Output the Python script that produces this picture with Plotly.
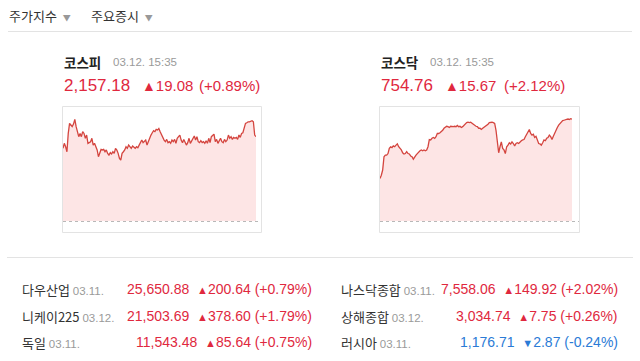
import plotly.graph_objects as go

W, H = 640, 361

# ---------------- data ----------------
kospi_vals = [
    2148.6, 2152.3, 2149.8, 2146.1, 2159.6, 2167.0, 2165.8, 2164.6, 2166.5, 2170.0,
    2164.6, 2159.6, 2157.2, 2159.6, 2157.2, 2160.9, 2159.6, 2156.0, 2158.4, 2152.3,
    2152.8, 2153.5, 2156.0, 2151.0, 2152.3, 2149.8, 2147.4, 2142.4, 2146.1, 2147.8,
    2147.4, 2147.8, 2146.1, 2147.4, 2144.9, 2143.7, 2145.4, 2144.4, 2146.1, 2144.9,
    2148.6, 2147.4, 2144.9, 2141.2, 2140.0, 2144.9, 2146.1, 2147.4, 2149.8, 2148.6,
    2151.0, 2149.8, 2148.6, 2150.3, 2149.3, 2148.6, 2149.8, 2149.1, 2151.0, 2153.5,
    2154.7, 2152.8, 2153.5, 2154.7, 2151.0, 2153.5, 2157.2, 2158.4, 2160.1, 2161.6,
    2160.9, 2162.6, 2162.1, 2163.3, 2160.9, 2158.4, 2157.2, 2154.7, 2153.5, 2155.2,
    2152.8, 2153.5, 2152.3, 2154.7, 2153.5, 2155.2, 2152.3, 2156.0, 2157.2, 2158.4,
    2154.7, 2152.8, 2155.2, 2152.3, 2151.0, 2152.8, 2156.0, 2152.3, 2154.2, 2156.0,
    2157.7, 2154.7, 2157.2, 2153.5, 2152.8, 2154.2, 2152.8, 2153.5, 2152.3, 2154.2,
    2152.3, 2156.0, 2152.8, 2157.2, 2158.4, 2159.1, 2153.5, 2155.2, 2152.3, 2154.7,
    2156.0, 2153.5, 2152.8, 2155.2, 2153.5, 2154.7, 2158.4, 2156.0, 2157.2, 2155.2,
    2156.7, 2156.0, 2156.7, 2155.2, 2158.4, 2156.7, 2159.6, 2160.1, 2164.6, 2167.0,
    2167.5, 2168.2, 2168.2, 2168.5, 2169.0, 2168.2, 2158.4, 2157.18,
]
kosdaq_vals = [
    740.0, 740.8, 742.1, 745.4, 745.8, 745.8, 746.2, 747.5, 747.9, 747.7,
    748.1, 747.9, 748.3, 748.6, 747.9, 747.5, 747.1, 746.4, 746.1, 746.2,
    746.7, 746.2, 746.1, 745.6, 745.4, 744.8, 745.4, 745.8, 746.2, 746.7,
    746.9, 747.1, 746.9, 747.1, 746.9, 747.1, 747.9, 749.7, 749.6, 750.0,
    750.2, 750.0, 750.4, 751.2, 751.2, 751.4, 751.6, 752.0, 752.5, 752.7,
    753.0, 752.9, 752.7, 753.0, 752.9, 752.9, 753.0, 752.9, 753.2, 752.9,
    753.0, 752.7, 752.9, 753.3, 753.5, 753.9, 754.0, 753.9, 754.0, 753.7,
    753.5, 753.3, 753.0, 752.9, 752.5, 752.5, 752.2, 752.5, 752.7, 752.9,
    753.2, 753.5, 753.9, 754.0, 754.0, 753.9, 753.7, 752.0, 748.7, 746.4,
    747.9, 749.1, 747.5, 747.1, 746.2, 747.9, 748.3, 748.9, 748.6, 749.1,
    748.7, 748.1, 748.7, 748.9, 748.7, 749.1, 749.4, 749.6, 749.7, 750.4,
    751.0, 751.6, 752.2, 751.2, 750.8, 751.0, 750.2, 750.5, 749.6, 748.7,
    748.6, 748.3, 748.9, 749.6, 749.4, 750.0, 750.2, 750.8, 750.4, 749.7,
    750.5, 751.4, 752.0, 752.7, 753.3, 753.7, 754.1, 754.4, 754.5, 754.7,
    754.7, 754.8, 754.7, 754.9, 754.76,
]

tabs = ["주가지수", "주요증시"]

main_names = ["코스피", "코스닥"]
main_time = ["03.12. 15:35", "03.12. 15:35"]
main_price = ["2,157.18", "754.76"]
main_change = ["19.08", "15.67"]
main_pct = ["(+0.89%)", "(+2.12%)"]

left_names = ["다우산업", "니케이225", "독일"]
left_dates = ["03.11.", "03.12.", "03.11."]
left_price = ["25,650.88", "21,503.69", "11,543.48"]
left_change = ["200.64", "378.60", "85.64"]
left_pct = ["(+0.79%)", "(+1.79%)", "(+0.75%)"]
left_up = [True, True, True]

right_names = ["나스닥종합", "상해종합", "러시아"]
right_dates = ["03.11.", "03.12.", "03.11."]
right_price = ["7,558.06", "3,034.74", "1,176.71"]
right_change = ["149.92", "7.75", "2.87"]
right_pct = ["(+2.02%)", "(+0.26%)", "(-0.24%)"]
right_up = [True, True, False]

# ---------------- styles ----------------
RED = "#e0283e"
BLUE = "#2b7bd6"
LINE = "#d4453f"
FILL = "rgba(253,224,224,0.85)"
GRAY = "#9a9a9a"
DARK = "#222222"
BORDER = "#e3e3e3"
KR = "Noto Sans CJK KR"
NUM = "Liberation Sans, Arial, sans-serif"


def px(x):
    return x / W


def py(y):
    return 1 - y / H


fig = go.Figure()

fig.add_trace(go.Scatter(
    x=list(range(len(kospi_vals))), y=kospi_vals, mode="lines",
    line=dict(color=LINE, width=1.3), fill="tozeroy", fillcolor=FILL,
    xaxis="x", yaxis="y", hoverinfo="skip", showlegend=False))
fig.add_trace(go.Scatter(
    x=list(range(len(kosdaq_vals))), y=kosdaq_vals, mode="lines",
    line=dict(color=LINE, width=1.3), fill="tozeroy", fillcolor=FILL,
    xaxis="x2", yaxis="y2", hoverinfo="skip", showlegend=False))

ax_common = dict(showgrid=False, zeroline=False, showticklabels=False,
                 showline=False, ticks="", fixedrange=True)

fig.update_layout(
    width=W, height=H, margin=dict(l=0, r=0, t=0, b=0),
    paper_bgcolor="white", plot_bgcolor="rgba(0,0,0,0)",
    xaxis=dict(domain=[px(63), px(256)], range=[0, len(kospi_vals) - 1], **ax_common),
    yaxis=dict(domain=[py(221), py(107)], range=[2095.0, 2179.1], **ax_common),
    xaxis2=dict(domain=[px(380), px(572)], range=[0, len(kosdaq_vals) - 1], anchor="y2", **ax_common),
    yaxis2=dict(domain=[py(221), py(107)], range=[729.4, 757.8], anchor="x2", **ax_common),
)

shapes = []
# header separator
shapes.append(dict(type="line", xref="paper", yref="paper", x0=px(8), x1=px(632),
                   y0=py(31.5), y1=py(31.5), line=dict(color=BORDER, width=1)))
# chart boxes
for x0, x1 in [(62, 261), (379, 579)]:
    shapes.append(dict(type="rect", xref="paper", yref="paper", x0=px(x0 + 0.5), x1=px(x1 + 0.5),
                       y0=py(232.5), y1=py(106.5), line=dict(color=BORDER, width=1)))
    shapes.append(dict(type="line", xref="paper", yref="paper", x0=px(x0 + 1), x1=px(x1),
                       y0=py(221.5), y1=py(221.5), line=dict(color="#b8b8b8", width=1, dash="3px,3px")))
# table separator
shapes.append(dict(type="line", xref="paper", yref="paper", x0=px(7), x1=px(633),
                   y0=py(257.5), y1=py(257.5), line=dict(color=BORDER, width=1)))
fig.update_layout(shapes=shapes)

ann = []


def text(x, y, s, size, color, font=KR, anchor="left"):
    ann.append(dict(x=px(x), y=py(y), xref="paper", yref="paper", text=s, showarrow=False,
                    xanchor=anchor, yanchor="middle", font=dict(family=font, size=size, color=color),
                    align=anchor))


# tabs
text(7, 15, tabs[0] + "\u00a0\u00a0<span style='font-size:8px;color:#999'>▼</span>", 13, "#333")
text(89, 15, tabs[1] + "\u00a0\u00a0<span style='font-size:8px;color:#999'>▼</span>", 13, "#333")

# main indices
for i, x0 in enumerate([62, 379]):
    text(x0, 62, "<b>" + main_names[i] + "</b>", 13.5, DARK)
    text(x0 + 49, 62, main_time[i], 11.5, GRAY, font=NUM)
    text(x0, 86, main_price[i], 17, RED, font=NUM)
    chg_x = [140, 443][i]
    pct_x = [197, 502][i]
    text(chg_x, 86, "<span style='font-size:14px'>▲</span>" + main_change[i], 15, RED, font=NUM)
    text(pct_x, 86, main_pct[i], 15, RED, font=NUM)

rows_y = [289, 316, 342]


def row(xn, xr, y, name, date, price, chg, pct, up):
    text(xn, y, name + "\u00a0<span style='color:#9a9a9a;font-family:Liberation Sans;font-size:11.5px'>" + date + "</span>",
         13, "#333")
    col = RED if up else BLUE
    arrow = "▲" if up else "▼"
    s = (price + "\u00a0\u00a0<span style='font-size:11px'>" + arrow + "</span>" + chg + "\u00a0" + pct)
    text(xr, y, s, 14, col, font=NUM, anchor="right")


for i in range(3):
    row(20, 314, rows_y[i], left_names[i], left_dates[i], left_price[i], left_change[i], left_pct[i], left_up[i])
    row(339, 620, rows_y[i], right_names[i], right_dates[i], right_price[i], right_change[i], right_pct[i], right_up[i])

fig.update_layout(annotations=ann)
fig.write_html("out.html")
